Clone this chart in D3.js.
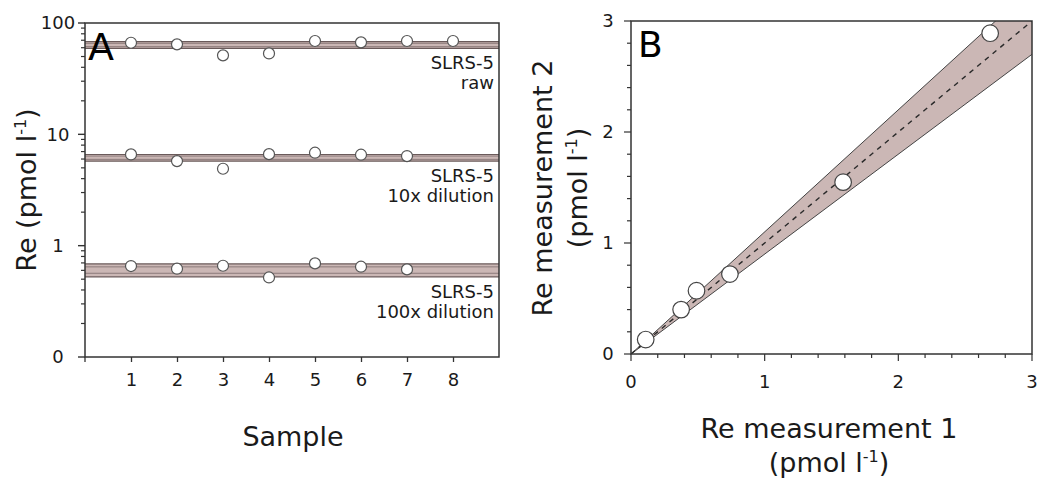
<!DOCTYPE html>
<html>
<head>
<meta charset="utf-8">
<script src="https://cdn.jsdelivr.net/npm/d3@7"></script>
<style>
  html, body { margin: 0; padding: 0; background: #fff; }
  svg { display: block; font-family: "DejaVu Sans", Verdana, sans-serif; }
</style>
</head>
<body>
<svg id="chart" width="1058" height="479"></svg>
<script>
// ---------- Panel A data ----------
const samples = [1, 2, 3, 4, 5, 6, 7, 8];
const rawValues = [66.5, 64.3, 51.2, 53.3, 68.9, 67.0, 68.9, 68.9];
const dil10Values = [6.60, 5.75, 4.91, 6.64, 6.84, 6.56, 6.38];
const dil100Values = [0.656, 0.621, 0.660, 0.518, 0.693, 0.647, 0.612];
const bandMeans = [63.5, 6.17, 0.605];
const bandSds = [2.2, 0.21, 0.04];
const bandLabels = [["SLRS-5", "raw"], ["SLRS-5", "10x dilution"], ["SLRS-5", "100x dilution"]];
const xTicksA = [1, 2, 3, 4, 5, 6, 7, 8];
const yTicksA = [0.1, 1, 10, 100];
const yTickLabelsA = ["0", "1", "10", "100"];

// ---------- Panel B data ----------
const meas1 = [0.11, 0.375, 0.49, 0.74, 1.587, 2.687];
const meas2 = [0.13, 0.40, 0.57, 0.72, 1.548, 2.89];
const bandSlopes = [1.1, 0.9];
const ticksB = [0, 1, 2, 3];

const svg = d3.select("#chart");
const axisColor = "#333";
const textColor = "#1a1a1a";
const fillColor = "#cbb7b5";
const tickFont = 18;
const titleFont = 27;

// ================= Panel A =================
const ax = d3.scaleLinear().domain([0, 9]).range([85, 499]);
const ay = d3.scaleLog().domain([0.1, 100]).range([357, 23]);
const gA = svg.append("g");

gA.append("defs").append("clipPath").attr("id", "clipA")
  .append("rect").attr("x", 85).attr("y", 23).attr("width", 414).attr("height", 334);

// bands
const bandG = gA.append("g").attr("clip-path", "url(#clipA)");
bandMeans.forEach((m, i) => {
  const s = bandSds[i];
  bandG.append("rect")
    .attr("x", ax(0)).attr("width", ax(9) - ax(0))
    .attr("y", ay(m + 2 * s)).attr("height", ay(m - 2 * s) - ay(m + 2 * s))
    .attr("fill", fillColor);
  [[2, "#6a5a5a", 1.2], [1, "#8c7b7b", 1], [-1, "#8c7b7b", 1], [-2, "#6a5a5a", 1.2]].forEach(([k, c, w]) => {
    bandG.append("line")
      .attr("x1", ax(0)).attr("x2", ax(9))
      .attr("y1", ay(m + k * s)).attr("y2", ay(m + k * s))
      .attr("stroke", c).attr("stroke-width", w);
  });
  // labels (one text element, two lines)
  const lo = ay(m - 2 * s);
  const t = gA.append("text")
    .attr("text-anchor", "end").attr("font-size", 18).attr("fill", textColor);
  bandLabels[i].forEach((line, j) => {
    t.append("tspan").attr("x", 494).attr("y", lo + 21 + j * 20).text(line);
  });
});

// frame
gA.append("rect").attr("x", 85).attr("y", 23).attr("width", 414).attr("height", 334)
  .attr("fill", "none").attr("stroke", axisColor).attr("stroke-width", 1.5);

// points
const series = [rawValues, dil10Values, dil100Values];
series.forEach(vals => {
  gA.selectAll(null).data(vals).enter().append("circle")
    .attr("cx", (d, i) => ax(samples[i]))
    .attr("cy", d => ay(d))
    .attr("r", 5.5)
    .attr("fill", "#fff").attr("stroke", "#555").attr("stroke-width", 1.2);
});

// x axis A
const xAxisA = d3.axisBottom(ax).tickValues(xTicksA).tickSize(5).tickFormat(d3.format("d")).tickPadding(11);
const gxA = gA.append("g").attr("transform", "translate(0,357)").call(xAxisA);
gxA.select(".domain").remove();
gxA.selectAll("line").attr("stroke", axisColor).attr("stroke-width", 1.3);
gxA.selectAll("text").attr("font-size", tickFont).attr("fill", textColor).attr("font-family", "DejaVu Sans");
gA.append("line").attr("x1", 85).attr("x2", 85).attr("y1", 357).attr("y2", 362)
  .attr("stroke", axisColor).attr("stroke-width", 1.3);

// y axis A minor ticks
const minorA = [];
[0.1, 1, 10].forEach(dec => { for (let k = 2; k <= 9; k++) minorA.push(dec * k); });
gA.selectAll(null).data(minorA).enter().append("line")
  .attr("x1", 81).attr("x2", 85)
  .attr("y1", d => ay(d)).attr("y2", d => ay(d))
  .attr("stroke", axisColor).attr("stroke-width", 1.2);
gA.selectAll(null).data(yTicksA).enter().append("line")
  .attr("x1", 78).attr("x2", 85)
  .attr("y1", d => ay(d)).attr("y2", d => ay(d))
  .attr("stroke", axisColor).attr("stroke-width", 1.4);
gA.selectAll(null).data(yTicksA).enter().append("text")
  .attr("x", 58).attr("y", d => ay(d)).attr("dy", "0.35em")
  .attr("text-anchor", "middle").attr("font-size", tickFont).attr("fill", textColor)
  .text((d, i) => yTickLabelsA[i]);

// panel letter
gA.append("text").attr("x", 88).attr("y", 60).attr("font-size", 38).attr("fill", "#000").text("A");

// axis titles A
gA.append("text").attr("x", 293).attr("y", 446).attr("text-anchor", "middle")
  .attr("font-size", titleFont).attr("fill", textColor).text("Sample");
const ylabA = gA.append("text").attr("transform", "translate(36,190) rotate(-90)")
  .attr("text-anchor", "middle").attr("font-size", titleFont).attr("fill", textColor);
ylabA.append("tspan").text("Re (pmol l");
ylabA.append("tspan").attr("dy", -10).attr("font-size", 16).text("-1");
ylabA.append("tspan").attr("dy", 10).text(")");

// ================= Panel B =================
const bx = d3.scaleLinear().domain([0, 3]).range([631, 1032]);
const by = d3.scaleLinear().domain([0, 3]).range([354, 21]);
const gB = svg.append("g");
gB.append("defs").append("clipPath").attr("id", "clipB")
  .append("rect").attr("x", 631).attr("y", 21).attr("width", 401).attr("height", 333);
const inner = gB.append("g").attr("clip-path", "url(#clipB)");

const xmax = 3;
const bandPoly = [[0, 0], [xmax * 1.2, bandSlopes[0] * xmax * 1.2], [xmax * 1.2, bandSlopes[1] * xmax * 1.2]];
inner.append("path")
  .attr("d", d3.line().x(d => bx(d[0])).y(d => by(d[1]))(bandPoly) + "Z")
  .attr("fill", fillColor);
bandSlopes.forEach(s => {
  inner.append("line")
    .attr("x1", bx(0)).attr("y1", by(0))
    .attr("x2", bx(xmax * 1.2)).attr("y2", by(s * xmax * 1.2))
    .attr("stroke", "#444").attr("stroke-width", 1);
});
inner.append("line")
  .attr("x1", bx(0)).attr("y1", by(0)).attr("x2", bx(3)).attr("y2", by(3))
  .attr("stroke", "#2a2a2a").attr("stroke-width", 1.4).attr("stroke-dasharray", "5,5");

gB.append("rect").attr("x", 631).attr("y", 21).attr("width", 401).attr("height", 333)
  .attr("fill", "none").attr("stroke", axisColor).attr("stroke-width", 1.5);

gB.selectAll(null).data(meas1).enter().append("circle")
  .attr("cx", d => bx(d)).attr("cy", (d, i) => by(meas2[i]))
  .attr("r", 8.3).attr("fill", "#fff").attr("stroke", "#444").attr("stroke-width", 1.2);

const minorB = d3.range(0, 3.001, 0.2).map(v => +v.toFixed(1));
// x ticks
gB.selectAll(null).data(minorB).enter().append("line")
  .attr("x1", d => bx(d)).attr("x2", d => bx(d))
  .attr("y1", 354).attr("y2", d => Number.isInteger(d) ? 361 : 358)
  .attr("stroke", axisColor).attr("stroke-width", 1.2);
gB.selectAll(null).data(minorB).enter().append("line")
  .attr("y1", d => by(d)).attr("y2", d => by(d))
  .attr("x2", 631).attr("x1", d => Number.isInteger(d) ? 624 : 627)
  .attr("stroke", axisColor).attr("stroke-width", 1.2);
gB.selectAll(null).data(ticksB).enter().append("text")
  .attr("x", d => bx(d)).attr("y", 388)
  .attr("text-anchor", "middle").attr("font-size", tickFont).attr("fill", textColor).text(d => d);
gB.selectAll(null).data(ticksB).enter().append("text")
  .attr("x", 608).attr("y", d => by(d)).attr("dy", "0.35em")
  .attr("text-anchor", "middle").attr("font-size", tickFont).attr("fill", textColor).text(d => d);

gB.append("text").attr("x", 638).attr("y", 57).attr("font-size", 36).attr("fill", "#000").text("B");

// axis titles B
gB.append("text").attr("x", 829).attr("y", 438).attr("text-anchor", "middle")
  .attr("font-size", titleFont).attr("fill", textColor).text("Re measurement 1");
const xl2 = gB.append("text").attr("x", 829).attr("y", 472).attr("text-anchor", "middle")
  .attr("font-size", titleFont).attr("fill", textColor);
xl2.append("tspan").text("(pmol l");
xl2.append("tspan").attr("dy", -10).attr("font-size", 16).text("-1");
xl2.append("tspan").attr("dy", 10).text(")");

gB.append("text").attr("transform", "translate(552,188) rotate(-90)")
  .attr("text-anchor", "middle").attr("font-size", titleFont).attr("fill", textColor).text("Re measurement 2");
const yl2 = gB.append("text").attr("transform", "translate(587,188) rotate(-90)")
  .attr("text-anchor", "middle").attr("font-size", titleFont).attr("fill", textColor);
yl2.append("tspan").text("(pmol l");
yl2.append("tspan").attr("dy", -10).attr("font-size", 16).text("-1");
yl2.append("tspan").attr("dy", 10).text(")");
</script>
</body>
</html>
